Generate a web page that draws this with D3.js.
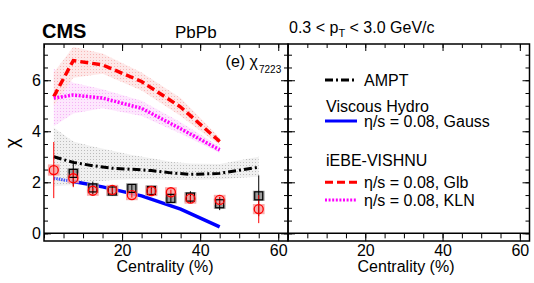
<html>
<head>
<script src="https://d3js.org/d3.v7.min.js"></script>
<style>
  body { margin: 0; background: white; }
  text { font-family: "Liberation Sans", Arial, sans-serif; fill: black; }
  .tick line { stroke: black; stroke-width: 1; }
  .domain { display: none; }
</style>
</head>
<body>
<svg id="chart" width="534" height="283"></svg>
<script>
// CMS data points
const centCircle = [2.5, 7.5, 12.5, 17.5, 22.5, 27.5, 32.5, 37.5, 45, 55];
const chiCircle = [2.48, 2.16, 1.67, 1.70, 1.50, 1.66, 1.61, 1.36, 1.31, 0.95];
const chiCircleStat = [1.1, 0.35, 0.1, 0.1, 0.1, 0.1, 0.1, 0.1, 0.12, 0.55];
const chiCircleSys = [0.22, 0.2, 0.2, 0.2, 0.2, 0.2, 0.2, 0.2, 0.2, 0.2];

const centSquare = [7.5, 12.5, 17.5, 22.5, 27.5, 32.5, 37.5, 45, 55];
const chiSquare = [2.35, 1.78, 1.66, 1.76, 1.68, 1.37, 1.42, 1.16, 1.47];
const chiSquareStat = [0.5, 0.25, 0.17, 0.15, 0.12, 0.18, 0.23, 0.25, 0.8];
const chiSquareSys = [0.2, 0.2, 0.2, 0.2, 0.2, 0.2, 0.2, 0.2, 0.2];

// models
const centAmpt = [2.5, 7.5, 12.5, 17.5, 22.5, 27.5, 32.5, 37.5, 45, 55];
const ampt = [3.0, 2.78, 2.65, 2.55, 2.51, 2.46, 2.37, 2.31, 2.35, 2.59];
const amptHigh = [4.15, 3.6, 3.4, 3.24, 3.07, 2.94, 2.81, 2.74, 2.72, 3.0];
const amptLow = [1.85, 1.89, 2.02, 2.09, 2.12, 2.12, 2.09, 2.09, 2.12, 2.22];

const centHydro = [2.5, 7.5, 15, 25, 35, 45];
const hydroGauss = [2.16, 2.03, 1.82, 1.47, 0.95, 0.25];
const vishnuGlb = [5.36, 6.77, 6.6, 5.95, 4.95, 3.6];
const vishnuGlbHigh = [6.3, 7.3, 7.05, 6.3, 5.3, 3.75];
const vishnuGlbLow = [5.0, 6.1, 6.25, 5.6, 4.6, 3.45];
const vishnuKln = [5.3, 5.42, 5.3, 4.9, 4.1, 3.27];
const vishnuKlnHigh = [6.45, 5.9, 5.65, 5.2, 4.35, 3.4];
const vishnuKlnLow = [4.2, 4.7, 4.9, 4.6, 3.9, 3.15];

const yMajor = [0, 2, 4, 6];
const xMajor = [20, 40, 60];

const svg = d3.select("#chart");

const yScale = d3.scaleLinear().domain([-0.3, 7.42]).range([241, 44]);
const xLeft = d3.scaleLinear().domain([0, 62.5]).range([44, 288]);
const xRight = d3.scaleLinear().domain([0, 62.5]).range([288, 529.5]);

// band patterns
const defs = svg.append("defs");
function stipple(id, base, dot) {
    const p = defs.append("pattern").attr("id", id)
        .attr("width", 3).attr("height", 3).attr("patternUnits", "userSpaceOnUse");
    p.append("rect").attr("width", 3).attr("height", 3).attr("fill", base);
    p.append("rect").attr("width", 1).attr("height", 1).attr("fill", dot);
}
stipple("pGray", "#f0f0f0", "#bcbcbc");
stipple("pRed", "#fde4e4", "#f6aaaa");
stipple("pMag", "#fde4fd", "#f4aaf4");

const plot = svg.append("g");
plot.append("clipPath").attr("id", "clipL").append("rect")
    .attr("x", 44).attr("y", 44).attr("width", 244).attr("height", 197);
const area = plot.append("g").attr("clip-path", "url(#clipL)");

function band(xs, lo, hi) {
    return d3.area().x((d, i) => xLeft(xs[i])).y0((d, i) => yScale(lo[i])).y1((d, i) => yScale(hi[i]))(xs);
}
function curve(xs, ys) {
    return d3.line().x((d, i) => xLeft(xs[i])).y((d, i) => yScale(ys[i]))(xs);
}

area.append("path").attr("d", band(centAmpt, amptLow, amptHigh)).attr("fill", "url(#pGray)");
area.append("path").attr("d", band(centHydro, vishnuKlnLow, vishnuKlnHigh)).attr("fill", "url(#pMag)").attr("opacity", 0.9);
area.append("path").attr("d", band(centHydro, vishnuGlbLow, vishnuGlbHigh)).attr("fill", "url(#pRed)").attr("opacity", 0.85);

area.append("path").attr("d", curve(centAmpt, ampt)).attr("fill", "none")
    .attr("stroke", "black").attr("stroke-width", 3).attr("stroke-dasharray", "8,3,2,3");
area.append("path").attr("d", curve(centHydro, vishnuGlb)).attr("fill", "none")
    .attr("stroke", "#ff0000").attr("stroke-width", 3.5).attr("stroke-dasharray", "8,4");
area.append("path").attr("d", curve(centHydro, vishnuKln)).attr("fill", "none")
    .attr("stroke", "#ff00ff").attr("stroke-width", 3.5).attr("stroke-dasharray", "2,1.6");
area.append("path").attr("d", curve(centHydro.slice(1), hydroGauss.slice(1))).attr("fill", "none")
    .attr("stroke", "#0000ff").attr("stroke-width", 3.5);
area.append("path").attr("d", curve(centHydro.slice(0, 2), hydroGauss.slice(0, 2))).attr("fill", "none")
    .attr("stroke", "#4455ff").attr("stroke-width", 3).attr("stroke-dasharray", "1.5,1");

// systematic boxes
const boxW = 1.5;
area.selectAll("rect.sysSq").data(centSquare).join("rect").attr("class", "sysSq")
    .attr("x", d => xLeft(d - boxW)).attr("width", d => xLeft(d + boxW) - xLeft(d - boxW))
    .attr("y", (d, i) => yScale(chiSquare[i] + chiSquareSys[i]))
    .attr("height", (d, i) => yScale(chiSquare[i] - chiSquareSys[i]) - yScale(chiSquare[i] + chiSquareSys[i]))
    .attr("fill", "#8c8c8c").attr("opacity", 0.85);
area.selectAll("rect.sysCi").data(centCircle).join("rect").attr("class", "sysCi")
    .attr("x", d => xLeft(d - boxW)).attr("width", d => xLeft(d + boxW) - xLeft(d - boxW))
    .attr("y", (d, i) => yScale(chiCircle[i] + chiCircleSys[i]))
    .attr("height", (d, i) => yScale(chiCircle[i] - chiCircleSys[i]) - yScale(chiCircle[i] + chiCircleSys[i]))
    .attr("fill", "#f7a0a0").attr("opacity", 0.85);

// stat errors
area.selectAll("line.errSq").data(centSquare).join("line").attr("class", "errSq")
    .attr("x1", d => xLeft(d)).attr("x2", d => xLeft(d))
    .attr("y1", (d, i) => yScale(chiSquare[i] - chiSquareStat[i]))
    .attr("y2", (d, i) => yScale(chiSquare[i] + chiSquareStat[i]))
    .attr("stroke", "black").attr("stroke-width", 1);
area.selectAll("line.errCi").data(centCircle).join("line").attr("class", "errCi")
    .attr("x1", d => xLeft(d)).attr("x2", d => xLeft(d))
    .attr("y1", (d, i) => yScale(chiCircle[i] - chiCircleStat[i]))
    .attr("y2", (d, i) => yScale(chiCircle[i] + chiCircleStat[i]))
    .attr("stroke", "#ff0000").attr("stroke-width", 1);

area.selectAll("rect.sq").data(centSquare).join("rect").attr("class", "sq")
    .attr("x", d => xLeft(d) - 4).attr("y", (d, i) => yScale(chiSquare[i]) - 4)
    .attr("width", 8).attr("height", 8)
    .attr("fill", "none").attr("stroke", "black").attr("stroke-width", 1.2);
area.selectAll("circle.ci").data(centCircle).join("circle").attr("class", "ci")
    .attr("cx", d => xLeft(d)).attr("cy", (d, i) => yScale(chiCircle[i])).attr("r", 4.5)
    .attr("fill", "none").attr("stroke", "#ff0000").attr("stroke-width", 1.3);

// axes and frames
const minorX = d3.range(0, 62.5, 5);
const minorY = d3.range(0, 7.5, 0.5);
[xLeft, xRight].forEach(x => {
    svg.append("g").attr("transform", "translate(0,44)")
        .call(d3.axisBottom(x).tickValues(minorX).tickSize(4).tickFormat(""));
    svg.append("g").attr("transform", "translate(0,44)")
        .call(d3.axisBottom(x).tickValues(xMajor).tickSize(7).tickFormat(""));
    svg.append("g").attr("transform", `translate(0,${yScale(0)})`)
        .call(d3.axisBottom(x).tickValues(minorX).tickSize(5).tickFormat(""));
    svg.append("g").attr("transform", `translate(0,${yScale(0)})`)
        .call(d3.axisBottom(x).tickValues(xMajor).tickSize(8).tickPadding(3.5))
        .selectAll("text").attr("font-size", 16);
    svg.append("line").attr("x1", x.range()[0]).attr("x2", x.range()[1])
        .attr("y1", yScale(0)).attr("y2", yScale(0)).attr("stroke", "black").attr("stroke-width", 1.5);
    svg.append("rect").attr("x", x.range()[0]).attr("y", 44)
        .attr("width", x.range()[1] - x.range()[0]).attr("height", 197)
        .attr("fill", "none").attr("stroke", "black").attr("stroke-width", 1.5);
});

// left y axis with labels
svg.append("g").attr("transform", "translate(44,0)")
    .call(d3.axisLeft(yScale).tickValues(minorY).tickSize(-4).tickFormat(""));
svg.append("g").attr("transform", "translate(44,0)")
    .call(d3.axisLeft(yScale).tickValues(yMajor).tickSize(-7).tickPadding(3))
    .selectAll("text").attr("font-size", 16);
// shared line and right frame
svg.append("g").attr("transform", "translate(288,0)")
    .call(d3.axisLeft(yScale).tickValues(minorY).tickSize(4).tickFormat(""));
svg.append("g").attr("transform", "translate(288,0)")
    .call(d3.axisLeft(yScale).tickValues(yMajor).tickSize(7).tickFormat(""));
svg.append("g").attr("transform", "translate(288,0)")
    .call(d3.axisRight(yScale).tickValues(minorY).tickSize(4).tickFormat(""));
svg.append("g").attr("transform", "translate(288,0)")
    .call(d3.axisRight(yScale).tickValues(yMajor).tickSize(7).tickFormat(""));
svg.append("g").attr("transform", "translate(529.5,0)")
    .call(d3.axisLeft(yScale).tickValues(minorY).tickSize(4).tickFormat(""));
svg.append("g").attr("transform", "translate(529.5,0)")
    .call(d3.axisLeft(yScale).tickValues(yMajor).tickSize(7).tickFormat(""));

// axis titles
svg.append("text").attr("x", 165).attr("y", 272).attr("text-anchor", "middle")
    .attr("font-size", 16).text("Centrality (%)");
svg.append("text").attr("x", 406).attr("y", 272).attr("text-anchor", "middle")
    .attr("font-size", 16).text("Centrality (%)");
svg.append("text").attr("transform", "translate(18,143) rotate(-90)").attr("text-anchor", "middle")
    .attr("font-size", 19).text("χ");

// headers
svg.append("text").attr("x", 42).attr("y", 38).attr("font-size", 20).attr("font-weight", "bold").text("CMS");
svg.append("text").attr("x", 175).attr("y", 38).attr("font-size", 17).text("PbPb");
const pt = svg.append("text").attr("x", 289).attr("y", 33).attr("font-size", 16);
pt.append("tspan").text("0.3 < p");
pt.append("tspan").attr("font-size", 11).attr("dy", 4).text("T");
pt.append("tspan").attr("dy", -4).text(" < 3.0 GeV/c");
svg.append("text").attr("x", 258).attr("y", 67).attr("text-anchor", "end").attr("font-size", 16).text("(e) χ");
svg.append("text").attr("x", 259).attr("y", 73).attr("font-size", 10).text("7223");

// legend
const legendNames = ["AMPT", "η/s = 0.08, Gauss", "η/s = 0.08, Glb", "η/s = 0.08, KLN"];
const legendY = [80, 121, 182.3, 200];
const legendColor = ["black", "#0000ff", "#ff0000", "#ff00ff"];
const legendDash = ["8,3,2,3", null, "8,4", "2,1.6"];
const legendGroups = ["Viscous Hydro", "iEBE-VISHNU"];
const legendGroupY = [112, 166];
const leg = svg.append("g");
legendNames.forEach((n, i) => {
    leg.append("line").attr("x1", 325).attr("x2", 357).attr("y1", legendY[i]).attr("y2", legendY[i])
        .attr("stroke", legendColor[i]).attr("stroke-width", 3)
        .attr("stroke-dasharray", legendDash[i]);
    leg.append("text").attr("x", 364).attr("y", legendY[i] + 5.5).attr("font-size", 16).text(n);
});
legendGroups.forEach((g, i) => {
    leg.append("text").attr("x", 326).attr("y", legendGroupY[i]).attr("font-size", 16).text(g);
});
</script>
</body>
</html>
